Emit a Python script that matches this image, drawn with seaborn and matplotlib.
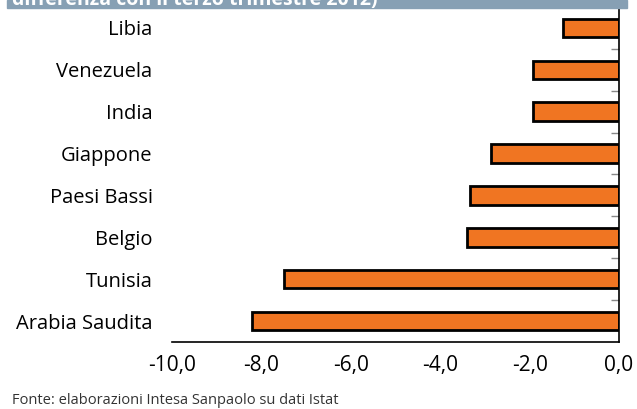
import matplotlib
matplotlib.use("Agg")
import matplotlib.pyplot as plt
import seaborn as sns
import pandas as pd
from matplotlib.ticker import FuncFormatter, FixedLocator

# Values (change vs Q3 2012)
countries = ["Libia", "Venezuela", "India", "Giappone", "Paesi Bassi",
             "Belgio", "Tunisia", "Arabia Saudita"]
values = [-1.25, -1.92, -1.92, -2.86, -3.33, -3.40, -7.49, -8.21]
xticks = [-10, -8, -6, -4, -2, 0]

df = pd.DataFrame({"country": countries, "value": values})

sns.set_style("white")
plt.rcParams["font.family"] = ["Open Sans", "DejaVu Sans"]

fig = plt.figure(figsize=(6.37, 4.09), dpi=100)
W, H = 637, 409
ax = fig.add_axes([172 / W, (H - 342) / H, (619 - 172) / W, (342 - 7) / H])

sns.barplot(data=df, x="value", y="country", orient="h", color="#F07522",
            saturation=1, edgecolor="black", linewidth=2, width=0.44, ax=ax)

ax.set_xlim(-10, 0)
ax.set_ylim(len(countries) - 0.5, -0.5)
ax.set_xlabel("")
ax.set_ylabel("")

for s in ["left", "top"]:
    ax.spines[s].set_visible(False)
for s in ["right", "bottom"]:
    ax.spines[s].set_color("black")
    ax.spines[s].set_linewidth(1.2)

ax.set_xticks(xticks)
ax.xaxis.set_major_formatter(FuncFormatter(lambda v, p: f"{v:.1f}".replace(".", ",")))
ax.tick_params(axis="x", direction="out", length=5, width=1, color="#777777",
               labelsize=15, pad=4, labelcolor="black")

ax.tick_params(axis="y", which="major", length=0, pad=14, labelsize=14.5,
               labelcolor="black")
ax.yaxis.set_minor_locator(FixedLocator([i + 0.5 for i in range(len(countries) - 1)]))
ax.tick_params(axis="y", which="minor", left=False, right=True, direction="in",
               length=6, width=1, color="#888888")

# title banner, cut off at top of the image
fig.patches.append(plt.Rectangle((7 / W, 1 - 8 / H), (627 - 7) / W, 8 / H,
                                 transform=fig.transFigure, color="#87A0B4",
                                 zorder=0))
fig.text(12 / W, 1 - 5 / H, "differenza con il terzo trimestre 2012)",
         color="white", fontsize=14, fontweight="bold", va="baseline", ha="left")

fig.text(12 / W, 1 - 400 / H, "Fonte: elaborazioni Intesa Sanpaolo su dati Istat",
         fontsize=10.5, color="#333333", va="center", ha="left")

fig.savefig("out.png", dpi=100)
